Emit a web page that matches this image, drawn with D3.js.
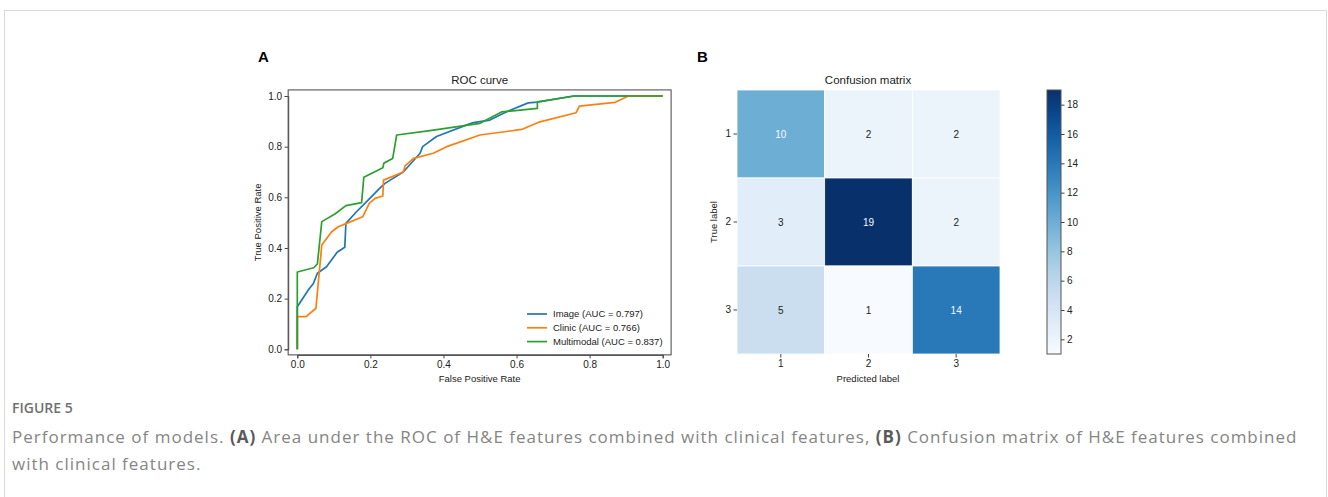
<!DOCTYPE html>
<html>
<head>
<meta charset="utf-8">
<script src="https://cdn.jsdelivr.net/npm/d3@7"></script>
<style>
  body { margin: 0; background: #fff; }
  svg text { font-family: "Liberation Sans", Arial, sans-serif; fill: #222; }
  .tick-label { font-size: 10px; }
  .legend-label { font-size: 9.5px; }
  .axis-label { font-size: 9.5px; }
  .plot-title { font-size: 11.5px; }
  .panel-label { font-size: 15px; font-weight: bold; fill: #000; }
  .caption { font-family: "Open Sans", sans-serif; font-size: 17px; letter-spacing: 1px; fill: #858585; }
  .caption-head { font-family: "Open Sans", sans-serif; font-size: 14px; font-weight: 600; fill: #707070; }
</style>
</head>
<body>
<div id="chart"></div>
<script>
// ROC curves
var imageFpr  = [0, 0, 0.030, 0.044, 0.055, 0.080, 0.109, 0.130, 0.133, 0.162, 0.185, 0.226, 0.240, 0.290, 0.336, 0.343, 0.381, 0.464, 0.482, 0.527, 0.573, 0.632, 0.657, 0.755, 1.0];
var imageTpr  = [0, 0.168, 0.234, 0.260, 0.300, 0.326, 0.383, 0.403, 0.497, 0.543, 0.576, 0.636, 0.655, 0.700, 0.774, 0.800, 0.840, 0.886, 0.895, 0.905, 0.938, 0.973, 0.976, 1.0, 1.0];
var clinicFpr = [0, 0, 0.024, 0.051, 0.067, 0.094, 0.112, 0.135, 0.179, 0.197, 0.213, 0.234, 0.236, 0.290, 0.295, 0.318, 0.372, 0.409, 0.500, 0.614, 0.664, 0.763, 0.772, 0.870, 0.906, 1.0];
var clinicTpr = [0, 0.129, 0.129, 0.162, 0.412, 0.464, 0.484, 0.497, 0.523, 0.576, 0.596, 0.605, 0.668, 0.700, 0.724, 0.754, 0.774, 0.800, 0.846, 0.868, 0.898, 0.934, 0.960, 0.975, 1.0, 1.0];
var multiFpr  = [0, 0, 0.045, 0.055, 0.067, 0.103, 0.133, 0.176, 0.182, 0.234, 0.237, 0.261, 0.272, 0.363, 0.500, 0.559, 0.657, 0.657, 0.760, 1.0];
var multiTpr  = [0, 0.305, 0.322, 0.337, 0.504, 0.534, 0.567, 0.579, 0.679, 0.717, 0.735, 0.753, 0.846, 0.863, 0.892, 0.937, 0.951, 0.977, 1.0, 1.0];
var modelNames = ["Image (AUC = 0.797)", "Clinic (AUC = 0.766)", "Multimodal (AUC = 0.837)"];
var modelColors = ["#1f77b4", "#ff7f0e", "#2ca02c"];
var rocTicks = [0, 0.2, 0.4, 0.6, 0.8, 1.0];

// confusion matrix
var classLabels = ["1", "2", "3"];
var matrix = [[10, 2, 2], [3, 19, 2], [5, 1, 14]];
var colorbarTicks = [2, 4, 6, 8, 10, 12, 14, 16, 18];

var width = 1328, height = 497;

var svg = d3.select("#chart").append("svg")
    .attr("width", width)
    .attr("height", height);

svg.append("rect")
    .attr("x", 4.5).attr("y", 10.5)
    .attr("width", 1322).attr("height", 520)
    .attr("fill", "#fff")
    .attr("stroke", "#dadada");

// ---------- panel A: ROC ----------
var x = d3.scaleLinear().domain([0, 1]).range([297.3, 662.7]);
var y = d3.scaleLinear().domain([0, 1]).range([349.3, 96]);
var xLo = x(-0.025), xHi = x(1.023), yLo = y(-0.022), yHi = y(1.024);

svg.append("text").attr("class", "panel-label").attr("x", 258).attr("y", 62).text("A");

var gA = svg.append("g");

gA.append("g")
    .attr("transform", "translate(0," + yLo + ")")
    .call(d3.axisBottom(x).tickValues(rocTicks).tickFormat(d3.format(".1f")).tickSize(3.5).tickPadding(2.5))
    .call(styleAxis);

gA.append("g")
    .attr("transform", "translate(" + xLo + ",0)")
    .call(d3.axisLeft(y).tickValues(rocTicks).tickFormat(d3.format(".1f")).tickSize(3.5).tickPadding(2.5))
    .call(styleAxis);

var line = d3.line()
    .x(function(d) { return x(d[0]); })
    .y(function(d) { return y(d[1]); });

var curves = [d3.zip(imageFpr, imageTpr), d3.zip(clinicFpr, clinicTpr), d3.zip(multiFpr, multiTpr)];

curves.forEach(function(c, i) {
    gA.append("path")
        .datum(c)
        .attr("fill", "none")
        .attr("stroke", modelColors[i])
        .attr("stroke-width", 1.7)
        .attr("stroke-linejoin", "round")
        .attr("d", line);
});

gA.append("rect")
    .attr("x", xLo).attr("y", yHi)
    .attr("width", xHi - xLo).attr("height", yLo - yHi)
    .attr("fill", "none")
    .attr("stroke", "#555")
    .attr("stroke-width", 1.1);

gA.append("text").attr("class", "plot-title")
    .attr("x", (xLo + xHi) / 2).attr("y", 84)
    .attr("text-anchor", "middle").text("ROC curve");

gA.append("text").attr("class", "axis-label")
    .attr("x", (xLo + xHi) / 2).attr("y", 382)
    .attr("text-anchor", "middle").text("False Positive Rate");

gA.append("text").attr("class", "axis-label")
    .attr("transform", "translate(261," + ((yLo + yHi) / 2) + ") rotate(-90)")
    .attr("text-anchor", "middle").text("True Positive Rate");

var legend = gA.append("g").attr("transform", "translate(527,314)");
modelNames.forEach(function(name, i) {
    var row = legend.append("g").attr("transform", "translate(0," + (i * 13.8) + ")");
    row.append("line")
        .attr("x1", 0).attr("x2", 20)
        .attr("stroke", modelColors[i]).attr("stroke-width", 1.7);
    row.append("text").attr("class", "legend-label")
        .attr("x", 26).attr("y", 3.4).text(name);
});

// ---------- panel B: confusion matrix ----------
svg.append("text").attr("class", "panel-label").attr("x", 697).attr("y", 62).text("B");

var cx = d3.scaleBand().domain(classLabels).range([737, 1000]);
var cy = d3.scaleBand().domain(classLabels).range([90, 354]);
var color = d3.scaleSequential(d3.interpolateBlues).domain([1, 19]);

var gB = svg.append("g");

var cells = [];
matrix.forEach(function(row, i) {
    row.forEach(function(v, j) {
        cells.push({ row: classLabels[i], col: classLabels[j], value: v });
    });
});

gB.selectAll("rect.cell")
    .data(cells)
    .enter().append("rect")
    .attr("class", "cell")
    .attr("x", function(d) { return cx(d.col); })
    .attr("y", function(d) { return cy(d.row); })
    .attr("width", cx.bandwidth())
    .attr("height", cy.bandwidth())
    .attr("fill", function(d) { return color(d.value); })
    .attr("stroke", "#fff")
    .attr("stroke-width", 0.8);

var thresh = (d3.max(cells, function(d) { return d.value; }) + d3.min(cells, function(d) { return d.value; })) / 2;

gB.selectAll("text.val")
    .data(cells)
    .enter().append("text")
    .attr("class", "val")
    .attr("x", function(d) { return cx(d.col) + cx.bandwidth() / 2; })
    .attr("y", function(d) { return cy(d.row) + cy.bandwidth() / 2 + 3.5; })
    .attr("text-anchor", "middle")
    .style("font-size", "10px")
    .style("fill", function(d) { return d.value < thresh ? "#222" : "#f7fbff"; })
    .text(function(d) { return d.value; });

gB.append("g")
    .attr("transform", "translate(0,354)")
    .call(d3.axisBottom(cx).tickSize(3.5).tickPadding(2.5))
    .call(styleAxis)
    .call(function(g) { g.select(".domain").remove(); });

gB.append("g")
    .attr("transform", "translate(737,0)")
    .call(d3.axisLeft(cy).tickSize(3.5).tickPadding(2.5))
    .call(styleAxis)
    .call(function(g) { g.select(".domain").remove(); });

gB.append("text").attr("class", "plot-title")
    .attr("x", 868).attr("y", 84)
    .attr("text-anchor", "middle").text("Confusion matrix");

gB.append("text").attr("class", "axis-label")
    .attr("x", 868).attr("y", 382)
    .attr("text-anchor", "middle").text("Predicted label");

gB.append("text").attr("class", "axis-label")
    .attr("transform", "translate(717,222) rotate(-90)")
    .attr("text-anchor", "middle").text("True label");

// colorbar
var cbX = 1047, cbW = 14;
var cbScale = d3.scaleLinear().domain([1, 19]).range([354, 90]);

var defs = svg.append("defs");
var grad = defs.append("linearGradient")
    .attr("id", "cbGrad")
    .attr("x1", "0").attr("y1", "1").attr("x2", "0").attr("y2", "0");
d3.range(0, 1.0001, 0.1).forEach(function(t) {
    grad.append("stop")
        .attr("offset", t)
        .attr("stop-color", color(1 + t * 18));
});

gB.append("rect")
    .attr("x", cbX).attr("y", cbScale(19))
    .attr("width", cbW).attr("height", cbScale(1) - cbScale(19))
    .attr("fill", "url(#cbGrad)")
    .attr("stroke", "#555")
    .attr("stroke-width", 1);

gB.append("g")
    .attr("transform", "translate(" + (cbX + cbW) + ",0)")
    .call(d3.axisRight(cbScale).tickValues(colorbarTicks).tickSize(3.5).tickPadding(2.5))
    .call(styleAxis)
    .call(function(g) { g.select(".domain").remove(); });

// ---------- caption ----------
svg.append("text").attr("class", "caption-head")
    .attr("x", 12).attr("y", 413).text("FIGURE 5");

var cap1 = svg.append("text").attr("class", "caption").attr("x", 12).attr("y", 443);
cap1.append("tspan").text("Performance of models. ");
cap1.append("tspan").style("font-weight", 700).style("fill", "#5a5a5a").text("(A)");
cap1.append("tspan").text(" Area under the ROC of H&E features combined with clinical features, ");
cap1.append("tspan").style("font-weight", 700).style("fill", "#5a5a5a").text("(B)");
cap1.append("tspan").text(" Confusion matrix of H&E features combined");

svg.append("text").attr("class", "caption")
    .attr("x", 12).attr("y", 470).text("with clinical features.");

function styleAxis(g) {
    g.select(".domain").attr("stroke", "#555").attr("stroke-width", 1.1);
    g.selectAll(".tick line").attr("stroke", "#444");
    g.selectAll(".tick text").style("font-size", "10px").style("fill", "#222")
        .style("font-family", "Liberation Sans, Arial, sans-serif");
}
</script>
</body>
</html>
